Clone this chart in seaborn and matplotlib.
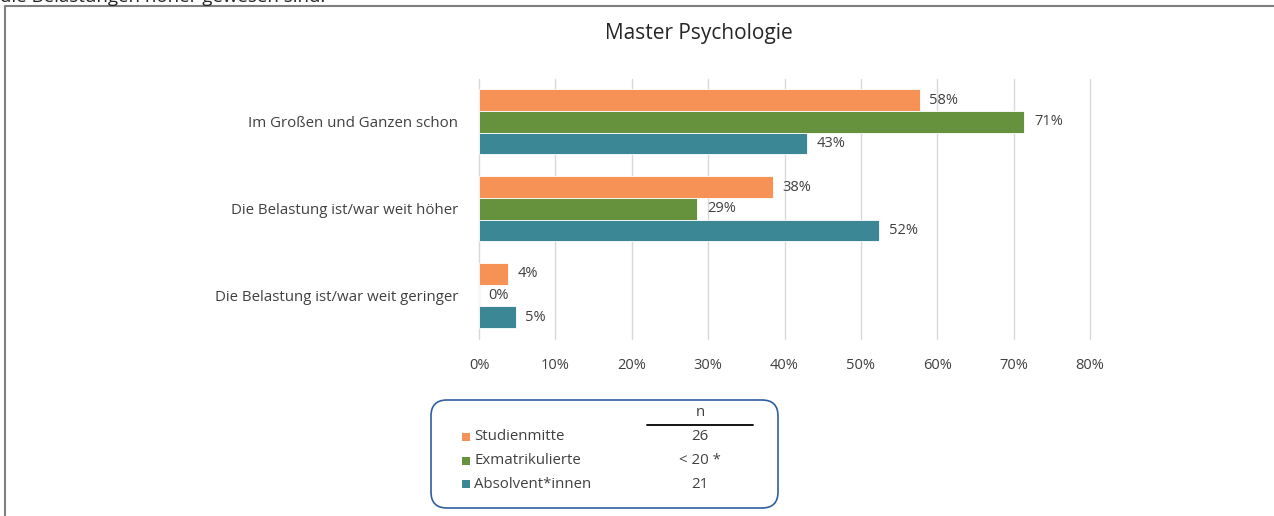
import numpy as np
import pandas as pd
import matplotlib
matplotlib.use("Agg")
import matplotlib.pyplot as plt
import seaborn as sns
from matplotlib.patches import FancyBboxPatch, Rectangle
from matplotlib.lines import Line2D
from matplotlib.transforms import IdentityTransform
from matplotlib.ticker import PercentFormatter

# ---------------- data ----------------
categories = ["Im Großen und Ganzen schon",
              "Die Belastung ist/war weit höher",
              "Die Belastung ist/war weit geringer"]
groups = ["Studienmitte", "Exmatrikulierte", "Absolvent*innen"]
studienmitte = [57.7, 38.5, 3.8]
exmatrikulierte = [71.4, 28.6, 0.0]
absolventen = [42.9, 52.4, 4.8]
n_values = ["26", "< 20 *", "21"]
xticks = [0, 10, 20, 30, 40, 50, 60, 70, 80]
colors = ["#F79257", "#66923D", "#3B8796"]
title = "Master Psychologie"
top_text = "die Belastungen höher gewesen sind."

series = [studienmitte, exmatrikulierte, absolventen]
df = pd.DataFrame({
    "Kategorie": categories * 3,
    "Gruppe": [g for g in groups for _ in categories],
    "Wert": [v for s in series for v in s],
})

# ---------------- style ----------------
sns.set_theme(style="white")
plt.rcParams["font.family"] = ["Open Sans", "DejaVu Sans"]
text_col = "#404040"

W, H = 1274, 516
fig = plt.figure(figsize=(W / 100, H / 100), dpi=100)
ax = fig.add_axes([479 / W, 1 - 339 / H, (1090 - 479) / W, (339 - 78.5) / H])

sns.barplot(data=df, y="Kategorie", x="Wert", hue="Gruppe", order=categories,
            hue_order=groups, palette=colors, width=0.75, orient="h",
            edgecolor="white", linewidth=0.6, saturation=1, ax=ax, legend=False)

ax.set_xlim(0, 80)
ax.set_ylim(2.5, -0.5)
ax.set_xticks(xticks)
ax.xaxis.set_major_formatter(PercentFormatter(decimals=0))
ax.grid(axis="x", color="#D9D9D9", linewidth=1)
ax.set_axisbelow(True)
for gl in ax.get_xgridlines():
    gl.set_clip_on(False)
for s in ax.spines.values():
    s.set_visible(False)
ax.set_xlabel("")
ax.set_ylabel("")
ax.tick_params(axis="x", length=0, pad=14, labelsize=10.5, labelcolor=text_col)
ax.tick_params(axis="y", length=0, pad=15, labelsize=10.8, labelcolor=text_col)

for cont in ax.containers:
    ax.bar_label(cont, labels=[f"{v:.0f}%" for v in cont.datavalues],
                 padding=7, fontsize=10.5, color=text_col)

# title
fig.text(699 / W, 1 - 33 / H, title, ha="center", va="center",
         fontsize=15, color="#262626")

# cut-off text at top and frame
fig.text(0 / W, 1 - 2 / H, top_text, ha="left", va="baseline",
         fontsize=13.5, color="#262626")
fig.add_artist(Line2D([4.5 / W, 4.5 / W, 1.0], [0, 1 - 6 / H, 1 - 6 / H],
                      transform=fig.transFigure, color="#7F7F7F", linewidth=1.5))

# legend box (in pixel units)
box = FancyBboxPatch((431, H - 508), 778 - 431, 508 - 400,
                     boxstyle="round,pad=0,rounding_size=16",
                     transform=IdentityTransform(), facecolor="white",
                     edgecolor="#2F5FA0", linewidth=1.2)
fig.add_artist(box)
fig.text(700 / W, 1 - 413 / H, "n", ha="center", va="center",
         fontsize=10.8, color=text_col)
fig.add_artist(Line2D([647 / W, 753 / W], [1 - 425 / H, 1 - 425 / H],
                      transform=fig.transFigure, color="black", linewidth=1.3))
rows_y = [437, 461, 484]
for g, c, nv, yy in zip(groups, colors, n_values, rows_y):
    fig.add_artist(Rectangle((462 / W, 1 - (yy + 4) / H), 8 / W, 8 / H,
                             transform=fig.transFigure, facecolor=c,
                             edgecolor="none"))
    fig.text(474 / W, 1 - yy / H, g, ha="left", va="center",
             fontsize=10.8, color=text_col)
    fig.text(700 / W, 1 - yy / H, nv, ha="center", va="center",
             fontsize=10.8, color=text_col)

fig.savefig("out.png", dpi=100, facecolor="white")
